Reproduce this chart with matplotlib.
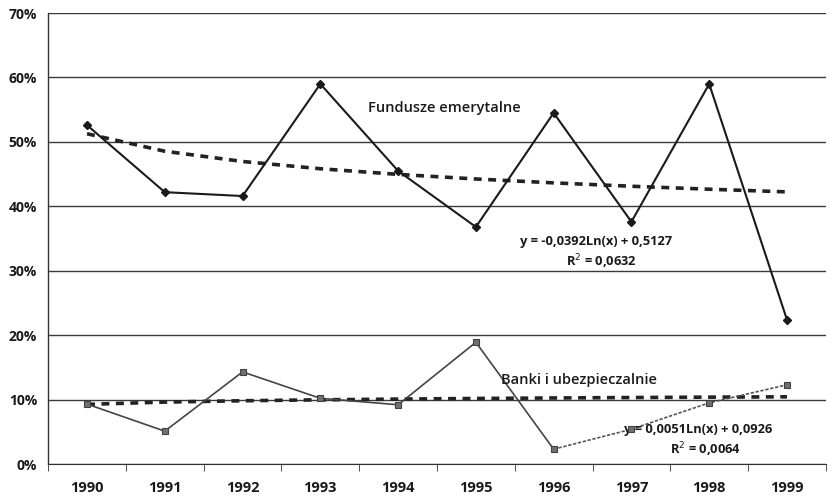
import numpy as np
import matplotlib
matplotlib.use("Agg")
import matplotlib.pyplot as plt

plt.rcParams['font.family'] = ['Open Sans', 'DejaVu Sans']

years = ["1990", "1991", "1992", "1993", "1994", "1995", "1996", "1997", "1998", "1999"]
fundusze = [52.6, 42.2, 41.6, 59.0, 45.5, 36.8, 54.5, 37.6, 59.0, 22.4]
banki = [9.3, 5.1, 14.3, 10.2, 9.2, 18.9, 2.3, 5.4, 9.5, 12.3]

# logarithmic trend coefficients as printed on the chart
trend_f = (-0.0392, 0.5127)
trend_b = (0.0051, 0.0926)

yticks = [0, 10, 20, 30, 40, 50, 60, 70]

x = np.arange(len(years))
lnx = np.log(x + 1)

fig = plt.figure(figsize=(8.3, 5.03), dpi=100)
ax = fig.add_axes([0.058, 0.0775, 0.937, 0.8965])

for v in yticks:
    ax.axhline(v, color="#3a3a3a", lw=1.0, zorder=1)

# trend lines
ax.plot(x, (trend_f[0] * lnx + trend_f[1]) * 100, color="#222222", lw=2.6,
        ls=(0, (2.2, 1.8)), zorder=2)
ax.plot(x, (trend_b[0] * lnx + trend_b[1]) * 100, color="#222222", lw=2.6,
        ls=(0, (2.2, 1.8)), zorder=2)

# series
ax.plot(x, fundusze, color="#1a1a1a", lw=1.5, marker="D", ms=4,
        mfc="#1a1a1a", mec="#1a1a1a", zorder=4)
ax.plot(x[:7], banki[:7], color="#444444", lw=1.2, zorder=3)
ax.plot(x[6:], banki[6:], color="#555555", lw=1.2, ls=(0, (2, 1)), zorder=3)
ax.plot(x, banki, ls="none", marker="s", ms=4.5, mfc="#707070",
        mec="#404040", mew=0.8, zorder=4)

ax.text(4.6, 55.2, "Fundusze emerytalne", fontsize=10.5, fontweight="semibold",
        ha="center", va="center", color="#1a1a1a")
ax.text(6.54, 34.5, "y = -0,0392Ln(x) + 0,5127", fontsize=9.3, fontweight="bold",
        ha="center", va="center", color="#1a1a1a")
ax.text(6.62, 31.4, "R$^{2}$ = 0,0632", fontsize=9.3, fontweight="bold",
        ha="center", va="center", color="#1a1a1a")
ax.text(6.33, 13.1, "Banki i ubezpieczalnie", fontsize=10.5, fontweight="semibold",
        ha="center", va="center", color="#1a1a1a")
ax.text(7.86, 5.4, "y = 0,0051Ln(x) + 0,0926", fontsize=9.3, fontweight="bold",
        ha="center", va="center", color="#1a1a1a")
ax.text(7.95, 2.2, "R$^{2}$ = 0,0064", fontsize=9.3, fontweight="bold",
        ha="center", va="center", color="#1a1a1a")

ax.set_xlim(-0.5, len(years) - 0.5)
ax.set_ylim(0, 70)
ax.set_xticks(x)
ax.set_xticklabels(years, fontsize=10.5, fontweight="bold", color="#1a1a1a")
ax.set_xticks(np.arange(len(years) + 1) - 0.5, minor=True)
ax.tick_params(axis="x", which="major", length=0, pad=12)
ax.tick_params(axis="x", which="minor", length=5, direction="out", color="#333333")
ax.set_yticks(yticks)
ax.set_yticklabels([f"{v}%" for v in yticks], fontsize=10, fontweight="bold", color="#1a1a1a")
ax.tick_params(axis="y", length=0, pad=8)

for s in ["top", "right"]:
    ax.spines[s].set_visible(False)
ax.spines["left"].set_color("#333333")
ax.spines["bottom"].set_color("#333333")
ax.spines["left"].set_linewidth(1.0)

fig.savefig("out.png", dpi=100, facecolor="white")
